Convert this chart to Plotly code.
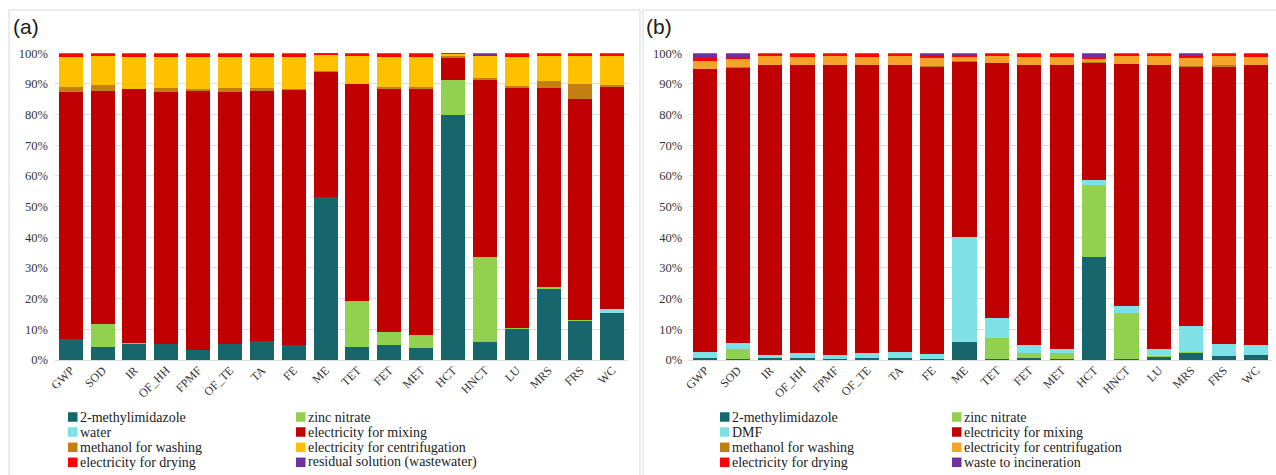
import plotly.graph_objects as go

W, H = 1276, 475

categories = ["GWP", "SOD", "IR", "OF_HH", "FPMF", "OF_TE", "TA", "FE", "ME",
              "TET", "FET", "MET", "HCT", "HNCT", "LU", "MRS", "FRS", "WC"]
pct_ticks = list(range(0, 101, 10))
pct_labels = [f"{v}%" for v in pct_ticks]

# ---- (a) contribution of each input, % ----
a_methylimidazole = [6.8, 4.1, 5.4, 5.2, 3.3, 5.2, 6.2, 4.8, 53.2, 4.1, 5.0, 3.8, 80.0, 5.8, 10.3, 23.3, 12.9, 15.2]
a_zinc_nitrate    = [0.2, 7.5, 0.1, 0.1, 0.1, 0.1, 0.1, 0.1, 0.1, 15.1, 4.0, 4.2, 11.2, 27.7, 0.2, 0.6, 0.1, 0.0]
a_water           = [0.0, 0.0, 0.0, 0.0, 0.0, 0.0, 0.0, 0.0, 0.0, 0.0, 0.0, 0.0, 0.0, 0.0, 0.0, 0.0, 0.0, 1.3]
a_mixing          = [80.5, 76.2, 82.8, 82.2, 84.4, 82.2, 81.5, 83.1, 40.6, 70.7, 79.4, 80.4, 7.2, 57.8, 78.1, 64.9, 72.2, 72.4]
a_methanol        = [1.4, 1.8, 0.2, 1.2, 0.5, 1.2, 0.9, 0.3, 0.3, 0.2, 0.5, 0.5, 0.7, 0.7, 0.6, 2.2, 4.9, 0.9]
a_centrifugation  = [9.8, 9.4, 10.2, 10.0, 10.4, 10.0, 10.0, 10.4, 5.3, 8.9, 9.8, 9.8, 0.6, 7.3, 9.5, 8.1, 9.0, 9.2]
a_drying          = [1.3, 1.0, 1.3, 1.3, 1.3, 1.3, 1.3, 1.3, 0.3, 1.0, 1.3, 1.3, 0.1, 0.2, 1.3, 0.9, 0.9, 1.0]
a_residual        = [0.0, 0.0, 0.0, 0.0, 0.0, 0.0, 0.0, 0.0, 0.2, 0.0, 0.0, 0.0, 0.2, 0.5, 0.0, 0.0, 0.0, 0.0]

# ---- (b) contribution of each input, % ----
b_methylimidazole = [0.8, 0.4, 0.8, 0.6, 0.3, 0.6, 0.6, 0.3, 5.8, 0.3, 0.7, 0.2, 33.5, 0.4, 1.1, 2.2, 1.4, 1.5]
b_zinc_nitrate    = [0.0, 3.3, 0.0, 0.0, 0.0, 0.0, 0.0, 0.0, 0.0, 7.0, 1.5, 2.0, 23.5, 14.9, 0.1, 0.3, 0.0, 0.0]
b_dmf             = [1.7, 2.0, 0.7, 1.6, 1.2, 1.6, 1.9, 1.7, 34.2, 6.3, 2.6, 1.4, 1.6, 2.4, 2.5, 8.6, 3.8, 3.3]
b_mixing          = [92.3, 89.6, 94.8, 93.9, 94.8, 93.9, 93.8, 93.7, 57.2, 83.1, 91.5, 92.7, 38.2, 78.9, 92.6, 84.6, 90.5, 91.5]
b_methanol        = [0.2, 0.2, 0.0, 0.0, 0.0, 0.0, 0.0, 0.2, 0.2, 0.0, 0.0, 0.0, 0.4, 0.0, 0.0, 0.2, 0.4, 0.0]
b_centrifugation  = [2.6, 2.8, 2.8, 2.7, 2.8, 2.7, 2.8, 2.6, 1.6, 2.4, 2.6, 2.6, 1.0, 2.6, 2.9, 2.6, 3.0, 2.5]
b_drying          = [0.9, 0.6, 0.7, 1.0, 0.8, 1.0, 0.8, 0.8, 0.6, 0.8, 1.0, 0.9, 0.3, 0.6, 0.8, 0.6, 0.9, 1.0]
b_incineration    = [1.5, 1.1, 0.2, 0.2, 0.1, 0.2, 0.1, 0.7, 0.4, 0.1, 0.1, 0.2, 1.5, 0.2, 0.0, 0.9, 0.0, 0.2]

series_a = [
    ("2-methylimidazole", a_methylimidazole, "#17666B"),
    ("zinc nitrate", a_zinc_nitrate, "#92D050"),
    ("water", a_water, "#7DE1E6"),
    ("electricity for mixing", a_mixing, "#C00000"),
    ("methanol for washing", a_methanol, "#C47F0E"),
    ("electricity for centrifugation", a_centrifugation, "#FFC000"),
    ("electricity for drying", a_drying, "#FF0000"),
    ("residual solution (wastewater)", a_residual, "#7030A0"),
]
series_b = [
    ("2-methylimidazole", b_methylimidazole, "#17666B"),
    ("zinc nitrate", b_zinc_nitrate, "#92D050"),
    ("DMF", b_dmf, "#7DE1E6"),
    ("electricity for mixing", b_mixing, "#C00000"),
    ("methanol for washing", b_methanol, "#BF7F10"),
    ("electricity for centrifugation", b_centrifugation, "#F5A32B"),
    ("electricity for drying", b_drying, "#FF0000"),
    ("waste to incineration", b_incineration, "#7030A0"),
]

SERIF = "Liberation Serif"
fig = go.Figure()

for (name, vals, col) in series_a:
    fig.add_trace(go.Bar(x=categories, y=vals, name=name, marker_color=col,
                         marker_line_width=0, xaxis="x", yaxis="y", showlegend=False))
for (name, vals, col) in series_b:
    fig.add_trace(go.Bar(x=categories, y=vals, name=name, marker_color=col,
                         marker_line_width=0, xaxis="x2", yaxis="y2", showlegend=False))


def px(x):
    return x / W


def py(y):
    return 1 - y / H


y_dom = [py(360), py(53.3)]
yaxis_style = dict(range=[0, 100], tickmode="array", tickvals=pct_ticks, ticktext=pct_labels,
                   showgrid=True, gridcolor="#DCDCDC", gridwidth=1,
                   zeroline=True, zerolinecolor="#DCDCDC", zerolinewidth=1,
                   showline=False, ticks="", ticklabelstandoff=6, automargin=False,
                   tickfont=dict(family=SERIF, size=12.5, color="#333333"))
xaxis_style = dict(tickangle=-45, showgrid=False, showline=False, zeroline=False, ticks="",
                   automargin=False,
                   tickfont=dict(family=SERIF, size=12, color="#333333"))

fig.update_layout(
    width=W, height=H,
    margin=dict(l=0, r=0, t=0, b=0, autoexpand=False),
    paper_bgcolor="white", plot_bgcolor="white",
    barmode="stack", bargap=0.25,
    xaxis=dict(domain=[px(54.8), px(628.2)], anchor="y", **xaxis_style),
    yaxis=dict(domain=y_dom, anchor="x", **yaxis_style),
    xaxis2=dict(domain=[px(689.1), px(1272.3)], anchor="y2", **xaxis_style),
    yaxis2=dict(domain=y_dom, anchor="x2", **yaxis_style),
)

shapes = []
annotations = []

# panel frames
shapes.append(dict(type="rect", xref="paper", yref="paper",
                   x0=px(9), x1=px(640), y0=py(490), y1=py(10),
                   line=dict(color="#D9D9D9", width=1), fillcolor="rgba(0,0,0,0)", layer="below"))
shapes.append(dict(type="rect", xref="paper", yref="paper",
                   x0=px(643), x1=px(1290), y0=py(490), y1=py(10),
                   line=dict(color="#D9D9D9", width=1), fillcolor="rgba(0,0,0,0)", layer="below"))

# panel tags
for tag, x in (("(a)", 11), ("(b)", 644)):
    annotations.append(dict(text=tag, xref="paper", yref="paper", x=px(x), y=py(26),
                            xanchor="left", yanchor="middle", showarrow=False,
                            font=dict(family="Liberation Sans", size=21, color="#1a1a1a")))

# two-column legends drawn under each panel
row_y = [417, 432, 447.3, 462.3]


def draw_legend(series, col_x):
    for i, (name, _, col) in enumerate(series):
        r, c = divmod(i, 2)
        x0 = col_x[c]
        yc = row_y[r]
        shapes.append(dict(type="rect", xref="paper", yref="paper",
                           x0=px(x0), x1=px(x0 + 9.5), y0=py(yc + 4.75), y1=py(yc - 4.75),
                           line=dict(width=0), fillcolor=col))
        annotations.append(dict(text=name, xref="paper", yref="paper", x=px(x0 + 10), y=py(yc),
                                xanchor="left", yanchor="middle", showarrow=False,
                                font=dict(family=SERIF, size=14, color="#1a1a1a")))


draw_legend(series_a, [68, 296])
draw_legend(series_b, [720, 952])

fig.update_layout(shapes=shapes, annotations=annotations)
fig.write_html("out.html")
